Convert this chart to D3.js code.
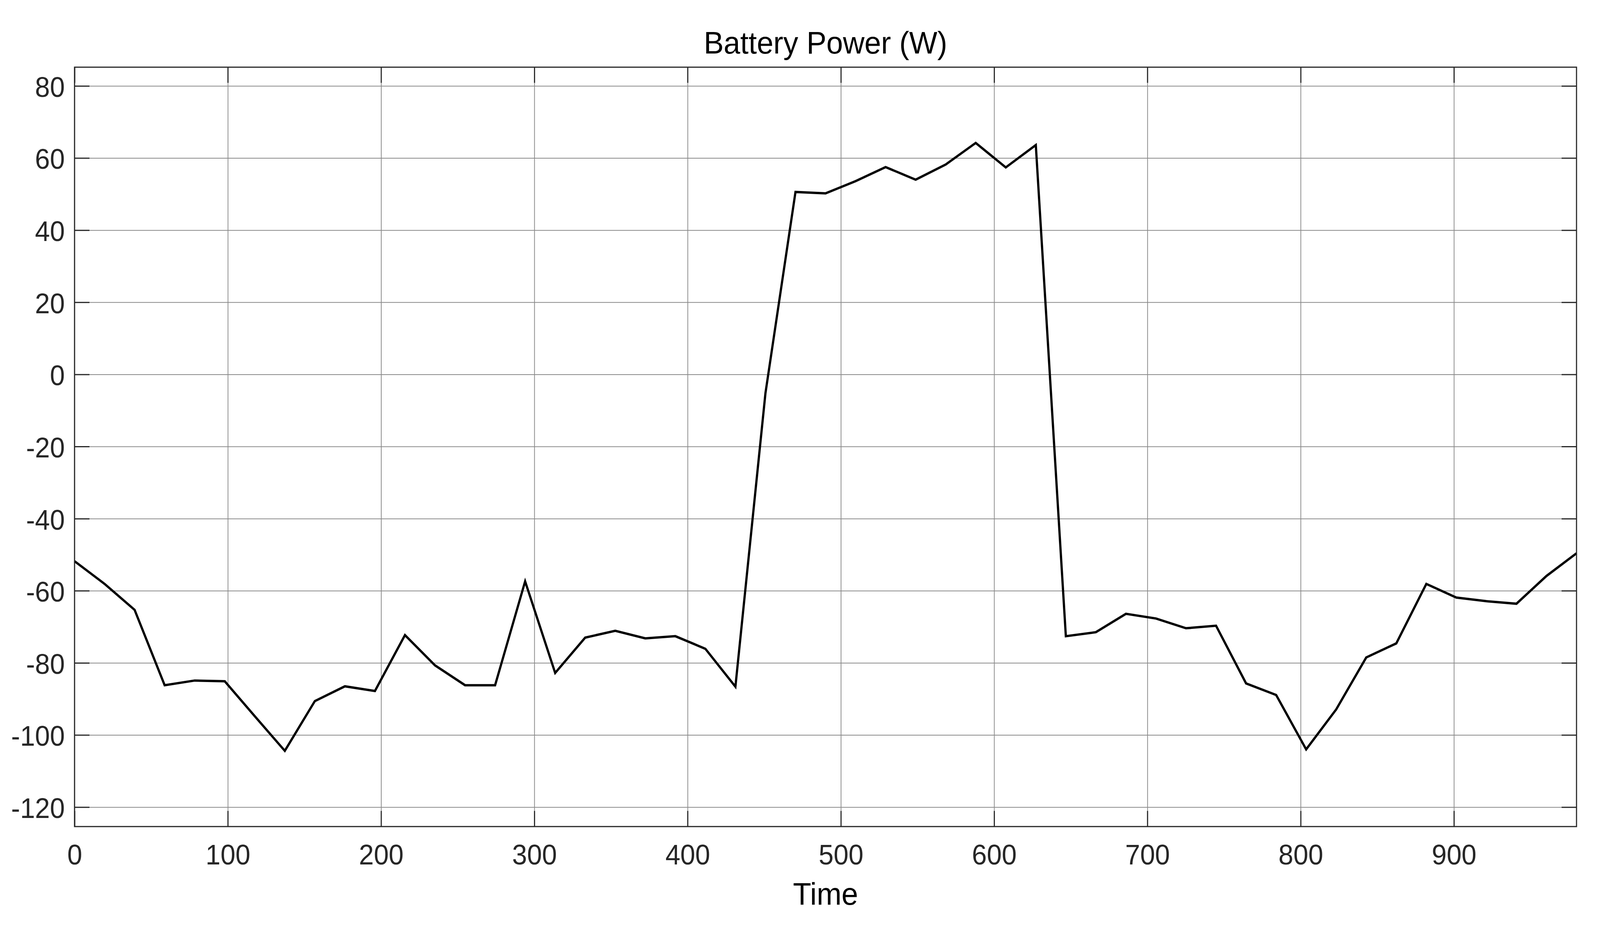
<!DOCTYPE html>
<html>
<head>
<meta charset="utf-8">
<script src="https://cdn.jsdelivr.net/npm/d3@7"></script>
<style>
  html, body { margin: 0; padding: 0; background: #fff; overflow: hidden; }
  #chart { width: 100vw; height: 100vh; }
  text { font-family: "Liberation Sans", Arial, Helvetica, sans-serif; }
</style>
</head>
<body>
<div id="chart"></div>
<script>
// sample times (s) and battery power (W)
const times = [0, 19.6, 39.2, 58.8, 78.4, 98, 117.6, 137.2, 156.8, 176.4,
  196, 215.6, 235.2, 254.8, 274.4, 294, 313.6, 333.2, 352.8, 372.4,
  392, 411.6, 431.2, 450.8, 470.4, 490, 509.6, 529.2, 548.8, 568.4,
  588, 607.6, 627.2, 646.8, 666.4, 686, 705.6, 725.2, 744.8, 764.4,
  784, 803.6, 823.2, 842.8, 862.4, 882, 901.6, 921.2, 940.8, 960.4, 980];
const power = [-51.8, -58.1, -65.3, -86.2, -84.9, -85.1, -94.8, -104.4, -90.6, -86.5,
  -87.8, -72.3, -80.7, -86.2, -86.2, -57.4, -82.8, -73.0, -71.1, -73.2,
  -72.6, -76.1, -86.6, -5.2, 50.6, 50.2, 53.6, 57.5, 54.0, 58.2,
  64.2, 57.4, 63.6, -72.6, -71.5, -66.4, -67.7, -70.4, -69.7, -85.7,
  -88.9, -104.0, -92.9, -78.5, -74.6, -58.1, -61.9, -62.9, -63.6, -55.9, -49.6];
const xTicks = [0, 100, 200, 300, 400, 500, 600, 700, 800, 900];
const yTicks = [-120, -100, -80, -60, -40, -20, 0, 20, 40, 60, 80];
const xDomain = [0, 980];
const yDomain = [-125.4, 85.2];

const W = 4293, H = 2368;
const margin = {top: 172, right: 63, bottom: 252, left: 200};
const width = W - margin.left - margin.right;
const height = H - margin.top - margin.bottom;
const tickLen = 40;

// stretch the drawing to whatever the window really is
const svg = d3.select("#chart").append("svg")
    .attr("viewBox", `0 0 ${W} ${H}`)
    .attr("preserveAspectRatio", "none")
    .attr("width", "100%")
    .attr("height", "100%")
    .style("display", "block");

svg.append("rect").attr("width", W).attr("height", H).attr("fill", "#fff");

const g = svg.append("g")
    .attr("transform", `translate(${margin.left}, ${margin.top})`);

let x = d3.scaleLinear().domain(xDomain).range([0, width]);
let y = d3.scaleLinear().domain(yDomain).range([height, 0]);

// grid
g.append("g")
    .attr("class", "grid")
    .attr("transform", `translate(0, ${height})`)
    .call(d3.axisBottom(x).tickValues(xTicks).tickSize(-height).tickFormat(""));
g.append("g")
    .attr("class", "grid")
    .call(d3.axisLeft(y).tickValues(yTicks).tickSize(-width).tickFormat(""));
g.selectAll(".grid line")
    .attr("stroke", "#8a8a8a")
    .attr("stroke-width", 2);

// data line
let line = d3.line()
    .x((d, i) => x(times[i]))
    .y(d => y(d));

g.append("path")
    .datum(power)
    .attr("fill", "none")
    .attr("stroke", "#000")
    .attr("stroke-width", 6)
    .attr("stroke-linejoin", "miter")
    .attr("d", line);

// axes with inward ticks on all four sides
const xAxis = g.append("g")
    .attr("class", "axis")
    .attr("transform", `translate(0, ${height})`)
    .call(d3.axisBottom(x).tickValues(xTicks).tickSize(-tickLen).tickFormat(d => String(d)));
xAxis.selectAll("text")
    .attr("y", 97)
    .attr("dy", 0);

const yAxis = g.append("g")
    .attr("class", "axis")
    .call(d3.axisLeft(y).tickValues(yTicks).tickSize(-tickLen).tickFormat(d => String(d)));
yAxis.selectAll("text")
    .attr("x", -26)
    .attr("dy", "0.38em");

g.append("g")
    .attr("class", "axis")
    .call(d3.axisTop(x).tickValues(xTicks).tickSize(-tickLen).tickFormat(""));
g.append("g")
    .attr("class", "axis")
    .attr("transform", `translate(${width}, 0)`)
    .call(d3.axisRight(y).tickValues(yTicks).tickSize(-tickLen).tickFormat(""));

g.selectAll(".domain").remove();
g.selectAll(".axis .tick line")
    .attr("stroke", "#262626")
    .attr("stroke-width", 3);
g.selectAll(".axis .tick text")
    .attr("fill", "#262626")
    .style("font-size", "72px");

g.append("rect")
    .attr("width", width)
    .attr("height", height)
    .attr("fill", "none")
    .attr("stroke", "#262626")
    .attr("stroke-width", 3);

// labels
svg.append("text")
    .attr("x", margin.left + width / 2)
    .attr("y", 137)
    .attr("text-anchor", "middle")
    .style("font-size", "80px")
    .attr("fill", "#000")
    .text("Battery Power (W)");

svg.append("text")
    .attr("x", margin.left + width / 2)
    .attr("y", 2316)
    .attr("text-anchor", "middle")
    .style("font-size", "80px")
    .attr("fill", "#000")
    .text("Time");
</script>
</body>
</html>
